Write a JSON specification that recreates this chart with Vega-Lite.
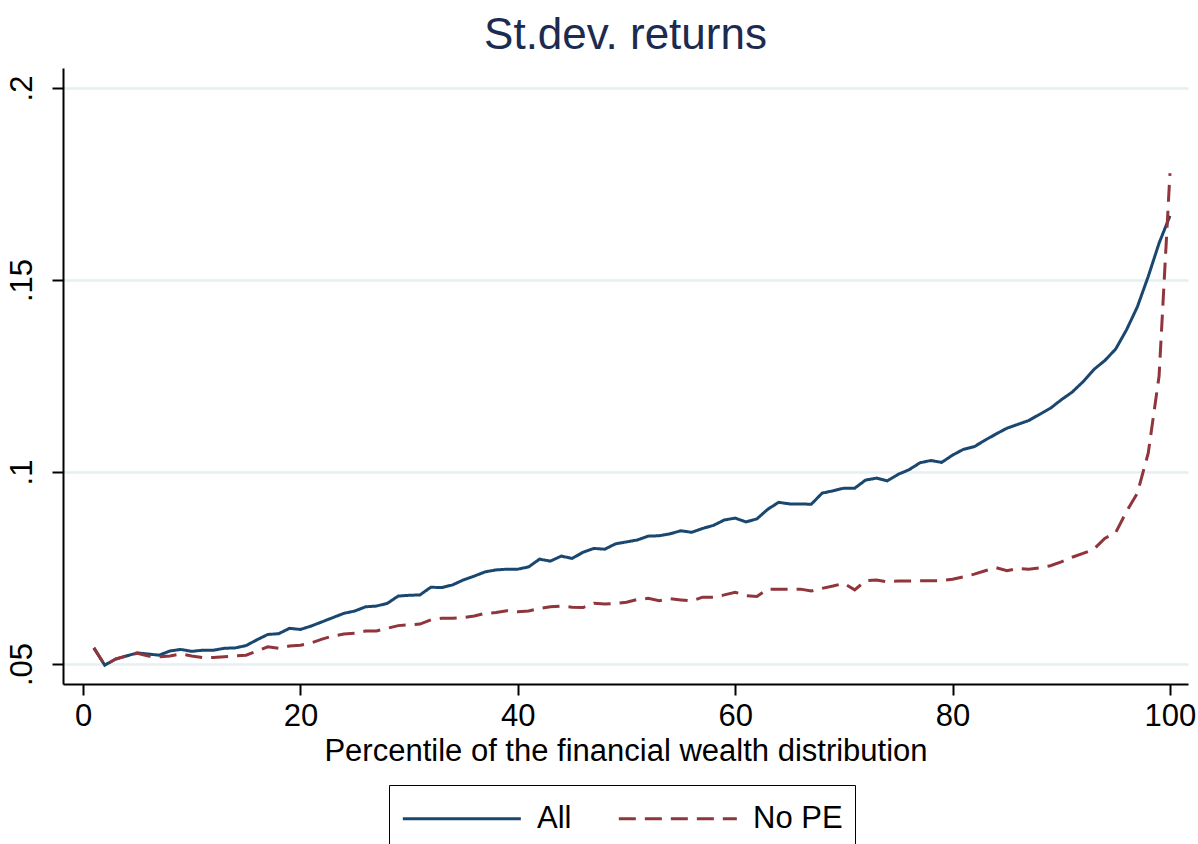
{
  "$schema": "https://vega.github.io/schema/vega-lite/v6.json",
  "width": 1125,
  "height": 616,
  "autosize": "none",
  "padding": {"left": 63, "top": 68, "right": 10, "bottom": 160},
  "background": "white",
  "title": {"text": "St.dev. returns", "fontSize": 44, "font": "Liberation Sans", "fontWeight": "normal", "color": "#1c2b4f", "anchor": "middle", "offset": 10},
  "config": {
    "view": {"stroke": null},
    "font": "Liberation Sans",
    "axis": {"labelFont": "Liberation Sans", "titleFont": "Liberation Sans", "labelFontSize": 31, "titleFontSize": 31, "labelColor": "black", "titleColor": "black", "titleFontWeight": "normal", "domainColor": "black", "domainWidth": 2, "tickColor": "black", "tickWidth": 2, "tickSize": 11},
    "legend": {"labelFont": "Liberation Sans", "labelFontSize": 31, "labelColor": "black"}
  },
  "datasets": {
    "sd": [
      {"p":1,"All":0.0542,"No PE":0.0542},{"p":2,"All":0.0497,"No PE":0.0497},{"p":3,"All":0.0513,"No PE":0.0513},{"p":4,"All":0.0521,"No PE":0.0521},{"p":5,"All":0.0529,"No PE":0.0528},
      {"p":6,"All":0.0526,"No PE":0.0521},{"p":7,"All":0.0523,"No PE":0.0519},{"p":8,"All":0.0534,"No PE":0.0521},{"p":9,"All":0.0538,"No PE":0.0526},{"p":10,"All":0.0533,"No PE":0.0521},
      {"p":11,"All":0.0536,"No PE":0.0517},{"p":12,"All":0.0536,"No PE":0.0517},{"p":13,"All":0.0541,"No PE":0.0519},{"p":14,"All":0.0542,"No PE":0.0521},{"p":15,"All":0.0548,"No PE":0.0523},
      {"p":16,"All":0.0563,"No PE":0.0534},{"p":17,"All":0.0577,"No PE":0.0545},{"p":18,"All":0.0579,"No PE":0.0541},{"p":19,"All":0.0593,"No PE":0.0547},{"p":20,"All":0.0590,"No PE":0.0549},
      {"p":21,"All":0.0599,"No PE":0.0555},{"p":22,"All":0.0610,"No PE":0.0565},{"p":23,"All":0.0621,"No PE":0.0573},{"p":24,"All":0.0632,"No PE":0.0578},{"p":25,"All":0.0638,"No PE":0.0580},
      {"p":26,"All":0.0649,"No PE":0.0586},{"p":27,"All":0.0651,"No PE":0.0586},{"p":28,"All":0.0658,"No PE":0.0593},{"p":29,"All":0.0677,"No PE":0.0600},{"p":30,"All":0.0679,"No PE":0.0602},
      {"p":31,"All":0.0680,"No PE":0.0604},{"p":32,"All":0.0700,"No PE":0.0615},{"p":33,"All":0.0699,"No PE":0.0619},{"p":34,"All":0.0706,"No PE":0.0619},{"p":35,"All":0.0719,"No PE":0.0621},
      {"p":36,"All":0.0729,"No PE":0.0625},{"p":37,"All":0.0740,"No PE":0.0632},{"p":38,"All":0.0745,"No PE":0.0634},{"p":39,"All":0.0747,"No PE":0.0639},{"p":40,"All":0.0747,"No PE":0.0636},
      {"p":41,"All":0.0753,"No PE":0.0638},{"p":42,"All":0.0773,"No PE":0.0645},{"p":43,"All":0.0768,"No PE":0.0649},{"p":44,"All":0.0781,"No PE":0.0651},{"p":45,"All":0.0775,"No PE":0.0648},
      {"p":46,"All":0.0791,"No PE":0.0647},{"p":47,"All":0.0801,"No PE":0.0658},{"p":48,"All":0.0799,"No PE":0.0656},{"p":49,"All":0.0813,"No PE":0.0658},{"p":50,"All":0.0818,"No PE":0.0661},
      {"p":51,"All":0.0823,"No PE":0.0668},{"p":52,"All":0.0833,"No PE":0.0671},{"p":53,"All":0.0834,"No PE":0.0665},{"p":54,"All":0.0839,"No PE":0.0670},{"p":55,"All":0.0847,"No PE":0.0667},
      {"p":56,"All":0.0843,"No PE":0.0664},{"p":57,"All":0.0853,"No PE":0.0674},{"p":58,"All":0.0861,"No PE":0.0674},{"p":59,"All":0.0875,"No PE":0.0680},{"p":60,"All":0.0880,"No PE":0.0687},
      {"p":61,"All":0.0870,"No PE":0.0678},{"p":62,"All":0.0878,"No PE":0.0676},{"p":63,"All":0.0903,"No PE":0.0695},{"p":64,"All":0.0921,"No PE":0.0695},{"p":65,"All":0.0917,"No PE":0.0695},
      {"p":66,"All":0.0917,"No PE":0.0695},{"p":67,"All":0.0916,"No PE":0.0690},{"p":68,"All":0.0945,"No PE":0.0697},{"p":69,"All":0.0951,"No PE":0.0703},{"p":70,"All":0.0958,"No PE":0.0710},
      {"p":71,"All":0.0958,"No PE":0.0693},{"p":72,"All":0.0979,"No PE":0.0717},{"p":73,"All":0.0984,"No PE":0.0719},{"p":74,"All":0.0977,"No PE":0.0714},{"p":75,"All":0.0994,"No PE":0.0716},
      {"p":76,"All":0.1006,"No PE":0.0716},{"p":77,"All":0.1024,"No PE":0.0717},{"p":78,"All":0.1030,"No PE":0.0717},{"p":79,"All":0.1025,"No PE":0.0717},{"p":80,"All":0.1044,"No PE":0.0721},
      {"p":81,"All":0.1059,"No PE":0.0727},{"p":82,"All":0.1066,"No PE":0.0734},{"p":83,"All":0.1083,"No PE":0.0743},{"p":84,"All":0.1099,"No PE":0.0751},{"p":85,"All":0.1114,"No PE":0.0743},
      {"p":86,"All":0.1124,"No PE":0.0749},{"p":87,"All":0.1134,"No PE":0.0747},{"p":88,"All":0.1150,"No PE":0.0750},{"p":89,"All":0.1166,"No PE":0.0756},{"p":90,"All":0.1188,"No PE":0.0766},
      {"p":91,"All":0.1208,"No PE":0.0778},{"p":92,"All":0.1235,"No PE":0.0788},{"p":93,"All":0.1267,"No PE":0.0799},{"p":94,"All":0.1290,"No PE":0.0827},{"p":95,"All":0.1320,"No PE":0.0842},
      {"p":96,"All":0.1370,"No PE":0.0897},{"p":97,"All":0.1430,"No PE":0.0945},{"p":98,"All":0.1509,"No PE":0.1049},{"p":99,"All":0.1596,"No PE":0.1250},{"p":100,"All":0.1667,"No PE":0.1778}
    ]
  },
  "data": {"name": "sd"},
  "transform": [{"fold": ["All", "No PE"], "as": ["series", "value"]}],
  "mark": {"type": "line", "strokeWidth": 3, "clip": true},
  "encoding": {
    "x": {
      "field": "p", "type": "quantitative",
      "scale": {"domain": [-1.84, 101.66], "nice": false, "zero": false},
      "axis": {"values": [0, 20, 40, 60, 80, 100], "grid": false, "title": "Percentile of the financial wealth distribution", "labelPadding": 6, "titlePadding": 5}
    },
    "y": {
      "field": "value", "type": "quantitative",
      "scale": {"domain": [0.0448, 0.2052], "nice": false, "zero": false},
      "axis": {"values": [0.05, 0.1, 0.15, 0.2], "title": null, "grid": true, "gridColor": "#e6eff1", "gridWidth": 2.5, "labelAngle": -90, "labelAlign": "center", "labelBaseline": "bottom", "labelPadding": 14, "labelExpr": "substring(format(datum.value, '.2~f'), 1)"}
    },
    "color": {
      "field": "series", "type": "nominal",
      "scale": {"domain": ["All", "No PE"], "range": ["#1a476f", "#90353b"]},
      "legend": {"title": null, "orient": "none", "legendX": 326, "legendY": 717, "direction": "horizontal", "symbolType": "M-1,0H5", "symbolSize": 1547, "symbolStrokeWidth": 3, "labelOffset": 93, "columnPadding": 40, "padding": 12, "strokeColor": "black", "fillColor": "white"}
    },
    "strokeDash": {
      "field": "series", "type": "nominal",
      "scale": {"domain": ["All", "No PE"], "range": [[1, 0], [17, 9]]},
      "legend": {"title": null, "orient": "none", "legendX": 326, "legendY": 717, "direction": "horizontal", "symbolType": "M-1,0H5", "symbolSize": 1547, "symbolStrokeWidth": 3, "labelOffset": 93, "columnPadding": 40, "padding": 12, "strokeColor": "black", "fillColor": "white"}
    }
  }
}
